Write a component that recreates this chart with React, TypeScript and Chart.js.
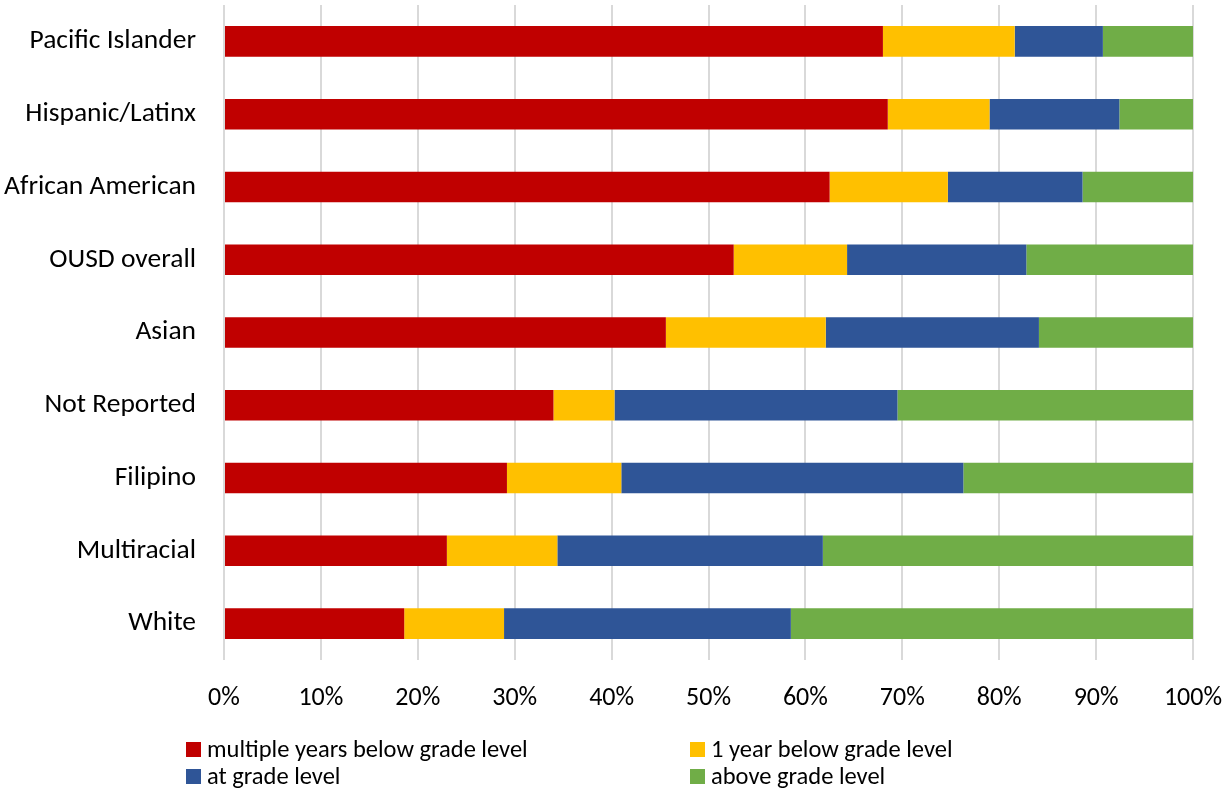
import React, { useEffect, useRef } from "react";
import { Chart, registerables } from "chart.js";

Chart.register(...registerables);

const categories = [
  "Pacific Islander",
  "Hispanic/Latinx",
  "African American",
  "OUSD overall",
  "Asian",
  "Not Reported",
  "Filipino",
  "Multiracial",
  "White",
];

const multipleYearsBelow = [68.0, 68.5, 62.5, 52.6, 45.6, 34.0, 29.2, 23.0, 18.6];
const oneYearBelow = [13.6, 10.5, 12.2, 11.7, 16.5, 6.3, 11.8, 11.4, 10.3];
const atGradeLevel = [9.1, 13.4, 13.9, 18.5, 22.0, 29.2, 35.3, 27.4, 29.6];
const aboveGradeLevel = [9.3, 7.6, 11.4, 17.2, 15.9, 30.5, 23.7, 38.2, 41.5];

const seriesLabels = [
  "multiple years below grade level",
  "1 year below grade level",
  "at grade level",
  "above grade level",
];
const seriesColors = ["#C00000", "#FFC000", "#2F5597", "#70AD47"];

const FONT = "Carlito, Calibri, Lato, sans-serif";

const legendPlugin = {
  id: "customLegend",
  afterDraw(chart: any) {
    const ctx = chart.ctx;
    const positions = [
      { x: 186, y: 750 },
      { x: 690, y: 750 },
      { x: 186, y: 777 },
      { x: 690, y: 777 },
    ];
    ctx.save();
    ctx.font = `24.5px ${FONT}`;
    ctx.textBaseline = "middle";
    ctx.textAlign = "left";
    seriesLabels.forEach((label, i) => {
      const p = positions[i];
      ctx.fillStyle = seriesColors[i];
      ctx.fillRect(p.x, p.y - 8, 15, 15);
      ctx.fillStyle = "#000000";
      ctx.fillText(label, p.x + 21, p.y + 1);
    });
    ctx.restore();
  },
};

const zeroPad = (scale: any) => {
  scale.paddingTop = 0;
  scale.paddingBottom = 0;
  scale.paddingLeft = 0;
  scale.paddingRight = 0;
};

export default function App() {
  const canvasRef = useRef<HTMLCanvasElement | null>(null);

  useEffect(() => {
    document.body.style.margin = "0";
    const canvas = canvasRef.current;
    if (!canvas) return;
    const data = [multipleYearsBelow, oneYearBelow, atGradeLevel, aboveGradeLevel];
    const chart = new Chart(canvas, {
      type: "bar",
      data: {
        labels: categories,
        datasets: data.map((d, i) => ({
          label: seriesLabels[i],
          data: d,
          backgroundColor: seriesColors[i],
          borderWidth: 0,
          barPercentage: 0.42,
          categoryPercentage: 1.0,
        })),
      },
      options: {
        indexAxis: "y",
        animation: false,
        responsive: false,
        maintainAspectRatio: false,
        layout: { autoPadding: false, padding: { top: 5, right: 32, bottom: 72, left: 0 } },
        plugins: {
          legend: { display: false },
          tooltip: { enabled: false },
        },
        scales: {
          x: {
            stacked: true,
            min: 0,
            max: 100,
            border: { display: false },
            grid: { color: "#D9D9D9", lineWidth: 2, tickLength: 0, drawTicks: false },
            ticks: {
              stepSize: 10,
              padding: 23,
              color: "#000000",
              font: { family: FONT, size: 26 },
              callback: (v: any) => `${v}%`,
            },
            afterFit: (scale: any) => {
              scale.height = 60;
              zeroPad(scale);
            },
          },
          y: {
            stacked: true,
            border: { display: false },
            grid: { display: false },
            ticks: {
              padding: 20,
              color: "#000000",
              font: { family: FONT, size: 27.5 },
            },
            afterFit: (scale: any) => {
              scale.width = 224;
              zeroPad(scale);
            },
          },
        },
      },
      plugins: [legendPlugin],
    });
    return () => chart.destroy();
  }, []);

  return (
    <div style={{ position: "fixed", left: 0, top: 0, width: 1225, height: 792, background: "#fff" }}>
      <canvas ref={canvasRef} width={1225} height={792} style={{ width: 1225, height: 792 }} />
    </div>
  );
}
